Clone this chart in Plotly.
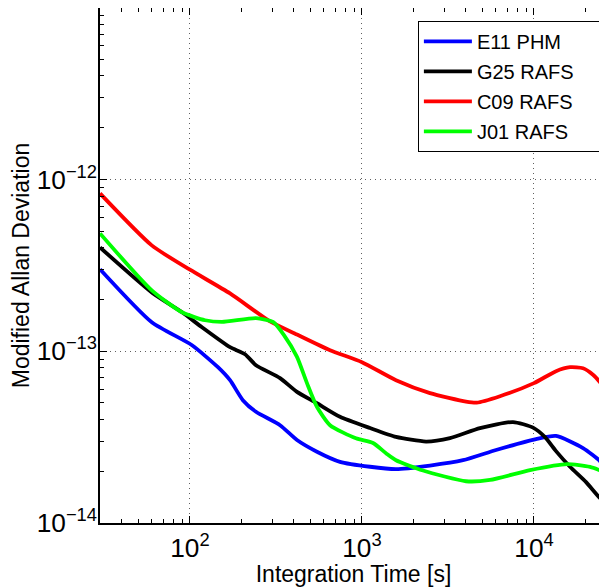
import plotly.graph_objects as go
import math

# ---- data ----
e11_tau = [30, 60, 102.8, 145.5, 171, 203, 242, 334, 419, 547, 745, 1114, 1577, 2485, 3868, 6017, 10280, 13430, 19270, 24200, 26570]
e11_mdev = [3.00e-13, 1.474e-13, 1.083e-13, 8.07e-14, 6.78e-14, 5.19e-14, 4.44e-14, 3.71e-14, 3.04e-14, 2.60e-14, 2.27e-14,
            2.125e-14, 2.06e-14, 2.16e-14, 2.32e-14, 2.66e-14, 3.08e-14, 3.21e-14, 2.73e-14, 2.29e-14, 1.95e-14]

g25_tau = [30, 60, 90, 117.5, 171, 209, 242, 334, 419, 547, 745, 1114, 1577, 2357, 3248, 4853, 7550, 9872, 11590, 13430,
           16195, 20080, 24200, 26570]
g25_mdev = [4.02e-13, 2.20e-13, 1.685e-13, 1.378e-13, 1.055e-13, 9.61e-14, 8.29e-14, 6.97e-14, 5.80e-14, 4.98e-14, 4.15e-14,
            3.57e-14, 3.17e-14, 2.98e-14, 3.12e-14, 3.57e-14, 3.87e-14, 3.59e-14, 3.16e-14, 2.62e-14, 2.125e-14, 1.73e-14,
            1.397e-14, 1.307e-14]

c09_tau = [30, 60, 100, 171, 292, 419, 652, 1000, 1577, 2485, 4024, 4645, 6343, 10000, 13430, 16195, 19270, 22030, 24200, 26570]
c09_mdev = [8.29e-13, 4.13e-13, 2.98e-13, 2.17e-13, 1.49e-13, 1.25e-13, 1.013e-13, 8.63e-14, 6.78e-14, 5.70e-14, 5.09e-14,
            5.02e-14, 5.47e-14, 6.52e-14, 7.65e-14, 8.07e-14, 7.96e-14, 7.30e-14, 6.60e-14, 5.70e-14]

j01_tau = [30, 60, 90, 122.4, 153.6, 242, 304, 352, 419, 479, 547, 652, 923, 1159, 1379, 1577, 2264, 4024, 5552, 9484, 15560,
           21180, 26570]
j01_mdev = [4.85e-13, 2.26e-13, 1.685e-13, 1.514e-13, 1.48e-13, 1.556e-13, 1.48e-13, 1.24e-13, 9.27e-14, 6.52e-14, 4.75e-14,
            3.71e-14, 3.11e-14, 2.92e-14, 2.55e-14, 2.32e-14, 2.02e-14, 1.75e-14, 1.78e-14, 2.03e-14, 2.20e-14, 2.12e-14, 1.95e-14]

series_names = ["E11 PHM", "G25 RAFS", "C09 RAFS", "J01 RAFS"]
series_colors = ["#0000FF", "#000000", "#FF0000", "#00FF00"]

x_range = [30, 26570]
y_range = [1e-14, 0.995e-11]

FONT = "Liberation Sans, Arial, Helvetica, sans-serif"
NBSP = "\u00a0"

fig = go.Figure()
for name, color, tx, ty in zip(series_names, series_colors,
                               [e11_tau, g25_tau, c09_tau, j01_tau],
                               [e11_mdev, g25_mdev, c09_mdev, j01_mdev]):
    fig.add_trace(go.Scatter(x=tx, y=ty, mode="lines", name=name + NBSP * 4, legendgroup=name,
                             line=dict(color=color, width=3.8, shape="spline", smoothing=0.6)))

axis_common = dict(
    type="log", showline=True, linecolor="black", linewidth=1.5, automargin=False,
    tickmode="linear", tick0=0, dtick=1, exponentformat="power", showexponent="all",
    ticks="inside", ticklen=7, tickwidth=1, tickcolor="black",
    showgrid=True, gridcolor="#606060", griddash="1px,4px", gridwidth=1,
    zeroline=False, tickfont=dict(family=FONT, size=21, color="black"),
    minor=dict(dtick="D1", ticks="inside", ticklen=4, tickwidth=1, tickcolor="black", showgrid=False),
)

fig.update_xaxes(
    **axis_common, range=[math.log10(x_range[0]), math.log10(x_range[1])], mirror="allticks",
    ticklabelstandoff=2,
    title=dict(text="Integration Time [s]", font=dict(family=FONT, size=23, color="black"), standoff=0),
)
fig.update_yaxes(
    **axis_common, range=[math.log10(y_range[0]), math.log10(y_range[1])],
    ticklabelstandoff=-3,
    title=dict(text="Modified Allan Deviation", font=dict(family=FONT, size=23, color="black"), standoff=10),
)

fig.update_layout(
    width=599, height=579,
    margin=dict(l=92, r=0, t=0, b=64),
    paper_bgcolor="white", plot_bgcolor="white",
    font=dict(family=FONT, color="black"),
    legend=dict(x=0.627, y=0.975, xanchor="left", yanchor="top",
                bgcolor="white", bordercolor="black", borderwidth=1,
                font=dict(family=FONT, size=20, color="black"),
                tracegroupgap=1, itemwidth=48),
    showlegend=True,
)

fig.write_html("out.html")
